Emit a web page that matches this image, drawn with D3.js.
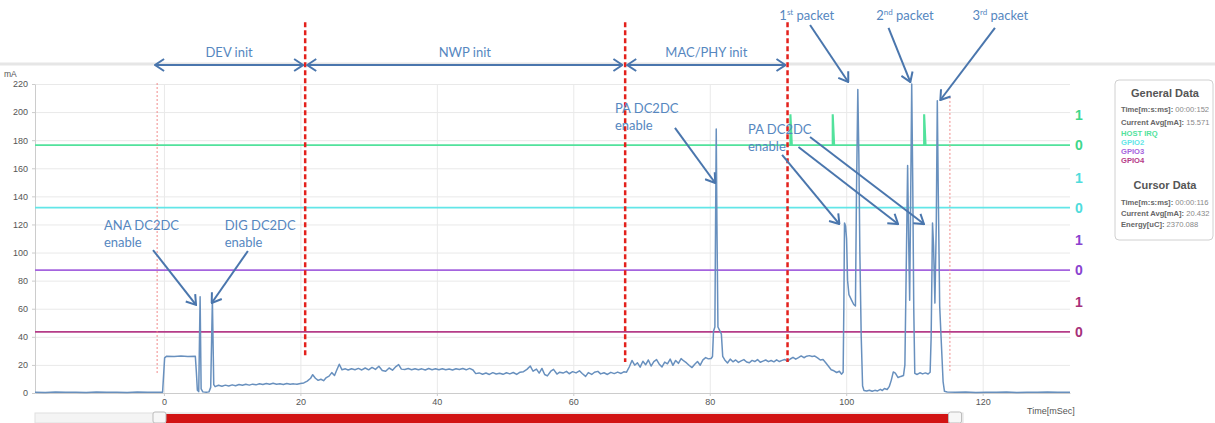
<!DOCTYPE html>
<html>
<head>
<meta charset="utf-8">
<title>Current consumption trace</title>
<script src="https://d3js.org/d3.v7.min.js"></script>
<style>
  body { margin: 0; background: #fff; }
  svg { display: block; font-family: "Liberation Sans", Arial, sans-serif; }
  .grid line { stroke: #e9e9e9; }
  .grid path { stroke: none; }
  .axis text { fill: #555; font-size: 9px; }
  .axis line, .axis path { stroke: #cccccc; }
  .note { font-family: Lato, sans-serif; font-size: 13px; fill: #5687bf; }
  .ptr { stroke: #4a76ad; stroke-width: 2; fill: none; }
  .legend .small { font-size: 7.6px; }
  .legend .head { font-size: 11px; font-weight: bold; fill: #555; }
</style>
</head>
<body>
<svg id="chart" width="1215" height="423"></svg>
<script>
// ---- data read off the capture ----
// current trace: [time ms, current mA]
const trace = [
  [-18.9,0.6],[-17.4,0.4],[-15.9,0.7],[-14.4,0.5],[-12.9,0.6],[-11.4,0.4],[-9.9,0.7],[-8.4,0.5],
  [-6.9,0.6],[-5.4,0.4],[-3.9,0.7],[-2.4,0.5],[-1.0,0.6],[-0.2,0.6],
  [0.1,25],[0.4,26.2],[1.5,26],[2.5,26.3],[3.5,26],[4.6,26.2],[4.75,15],[4.9,2],[5.1,1],
  [5.3,68.5],[5.45,3],[5.7,0.8],[6.2,0.5],[6.6,0.8],[6.85,4],[7.1,66],[7.3,6],
  [7.5,4.5],[8,5.5],[8.5,4.8],[9,5.6],[9.5,5],[10,5.8],[10.5,5.2],[11,6],[11.5,5.5],[12,6.2],
  [12.5,5.6],[13,6.3],[13.5,5.8],[14,6.6],[14.5,6],[15,6.8],[15.5,6.2],[16,6.9],[16.5,6.3],
  [17,6.6],[17.5,6.1],[18,6.8],[18.5,6.3],[19,6.5],[19.5,6.2],[20,6.8],[20.5,7.2],[21,8.5],
  [21.5,10.5],[21.8,13],[22.2,10.5],[22.6,9],[23,9.8],[23.4,8.8],[23.8,11],[24.2,12],[24.6,14.5],
  [25,12.5],[25.3,16],[25.7,20.5],[26.1,16.5],[26.6,17.2],[27,16.4],[27.5,17.3],[28,16.6],
  [28.5,17.5],[29,16.4],[29.5,17.8],[30,16.5],[30.5,18.2],[31,16.8],[31.5,19],[32,16],[32.5,15.5],
  [33,17.8],[33.5,16.2],[34,18.8],[34.4,20.2],[34.8,17],[35.3,16.8],[35.8,17.4],[36.3,16.6],
  [36.8,17.3],[37.3,16.5],[37.8,17.2],[38.3,16.4],[38.8,17.4],[39.3,16.6],[39.8,17.2],[40.3,16.5],
  [40.8,17.3],[41.3,16.6],[41.8,17.1],[42.3,16.4],[42.8,17.3],[43.3,16.7],[43.8,17.4],[44.3,16.5],
  [44.8,17.5],[45.3,16.4],[45.7,13.8],[46.2,14.3],[46.7,13.4],[47.2,14.2],[47.7,13.2],[48.2,14.5],
  [48.7,13.5],[49.2,14.1],[49.7,13.3],[50.2,14.4],[50.7,13.6],[51.2,14.6],[51.7,13.2],[52.2,14.8],
  [52.7,15.2],[53.2,16.8],[53.7,19.2],[54.1,15.5],[54.6,17],[55,14.2],[55.4,17.5],[55.8,13.2],
  [56.2,12.2],[56.7,15.5],[57.1,16.8],[57.6,13.5],[58,14.8],[58.5,14.2],[59,15.4],[59.4,13.7],
  [59.9,15.2],[60.4,14.3],[60.9,15.8],[61.3,13.9],[61.8,11.8],[62.2,14.5],[62.7,13.2],[63.1,14.8],
  [63.6,15.4],[64,13.6],[64.5,14.4],[65,13.2],[65.5,14.7],[66,13.8],[66.5,14.9],[67,13.9],
  [67.4,15.1],[67.8,14.8],[68.2,18.5],[68.6,23.2],[69,19.8],[69.4,21.5],[69.8,18.4],[70.2,22.6],
  [70.6,20.1],[71,23.5],[71.4,19.2],[71.8,22.3],[72.2,23.8],[72.6,20.5],[73,18.6],[73.4,22],
  [73.8,20.8],[74.2,24.1],[74.6,19.7],[75,23.2],[75.4,21.1],[75.8,24.5],[76.2,22.8],[76.6,21.4],
  [77,19.6],[77.4,18.1],[77.8,20.5],[78.2,22.4],[78.6,19.8],[79,23.6],[79.4,25.2],[79.8,24.3],
  [80.2,24.6],[80.4,26],[80.55,44],[80.75,47],[80.85,120],[80.95,188],[81.05,120],[81.2,47],
  [81.5,44],[81.7,42],[81.9,26],[82.2,23.5],[82.6,21.4],[83,24.1],[83.4,22.2],[83.8,23.5],
  [84.2,21.8],[84.6,22.9],[85,23.8],[85.4,22.1],[85.8,21.5],[86.2,23.2],[86.6,22.4],[87,23.8],
  [87.4,21.9],[87.8,22.7],[88.2,23.5],[88.6,22.3],[89,23.1],[89.4,22.2],[89.8,23.6],[90.2,22.4],
  [90.6,23.2],[91,23.9],[91.4,22.6],[91.8,24.2],[92.2,25.4],[92.6,24.1],[93,25.2],[93.4,26.4],
  [93.8,25.1],[94.2,26.2],[94.6,26.6],[95,26],[95.4,26.3],[95.8,25],[96.2,23.5],[96.6,23.8],
  [97,21.5],[97.4,19],[97.8,16.5],[98.2,15.8],[98.6,14.6],[99,15.5],[99.3,13.4],[99.55,14.8],
  [99.65,60],[99.75,121],[99.9,119],[100.05,110],[100.2,80],[100.4,70],[100.8,66],[101.1,63],
  [101.35,62],[101.5,140],[101.7,216],[101.85,170],[102,100],[102.2,40],[102.4,5],[102.6,1.8],
  [103,1.4],[103.4,2],[103.8,1.2],[104.2,1.9],[104.6,1.5],[105,2.6],[105.3,1.8],[105.6,3.2],
  [106,2.5],[106.3,4.5],[106.6,9],[106.9,15],[107.2,14.2],[107.6,11],[108,11.8],[108.4,12.5],
  [108.6,20],[108.8,90],[109,162],[109.15,110],[109.3,66],[109.45,140],[109.6,220],[109.75,150],
  [109.9,60],[110.05,14],[110.4,13.2],[110.8,14.4],[111.2,13.6],[111.6,14.3],[112,13.5],[112.3,14.8],
  [112.45,40],[112.65,121],[112.8,105],[113,64],[113.2,120],[113.35,208],[113.5,140],[113.7,62],
  [113.9,40],[114.2,8],[114.4,1.2],[114.8,0.7],[116,0.5],[117.5,0.7],[119,0.4],[120.5,0.6],
  [122,0.5],[123.5,0.7],[125,0.4],[126.5,0.6],[128,0.5],[129.5,0.7],[131,0.5],[132.8,0.6]
];

const xTicks = [0, 20, 40, 60, 80, 100, 120];
const yTicks = [0, 20, 40, 60, 80, 100, 120, 140, 160, 180, 200, 220];

// digital lines drawn over the current plot
const gpioName  = ["HOST IRQ", "GPIO2", "GPIO3", "GPIO4"];
const gpioColor = ["#52e29c", "#62e6e8", "#a564de", "#b53c88"];
const gpioText  = ["#3fd78b", "#4fdcdc", "#8a42cf", "#a6307a"];
const gpioZero  = [176.5, 132, 87.5, 43.5];   // mA where level 0 sits
const gpioHigh  = 21.4;                       // mA between level 0 and 1
const gpioPulses = [[91.8, 98.0, 111.4], [], [], []];

// phases (double arrows at the top)
const phaseName  = ["DEV init", "NWP init", "MAC/PHY init"];
const phaseStart = [-1.3, 21.0, 67.9];
const phaseEnd   = [20.4, 67.2, 91.1];

// red dashed phase separators and pink cursor lines
const sepT = [20.7, 67.6, 91.4];
const sepBottom = [25.6, 22, 22];
const cursorT = [-1.0, 115.2];
const cursorTop = [220.7, 210.8];

// callouts
const notes = [
  {lines: ["ANA DC2DC", "enable"], t: -8.8, v: 119.6},
  {lines: ["DIG DC2DC", "enable"], t: 8.9, v: 119.6},
  {lines: ["PA DC2DC", "enable"], t: 66.1, v: 202.9},
  {lines: ["PA DC2DC", "enable"], t: 85.6, v: 188.0}
];
const packetNum = ["1", "2", "3"];
const packetSup = ["st", "nd", "rd"];
const packetT = [90.2, 104.4, 118.5];
const pointers = [
  [-1.6, 101.8, 4.7, 62.7],
  [12.3, 101.1, 7.0, 64.1],
  [74.9, 188.7, 80.8, 149.5],
  [90.6, 169.5, 99.0, 120.3],
  [93.0, 175.2, 107.6, 120.3],
  [94.7, 182.3, 111.4, 120.3],
  [94.7, 262.0, 100.3, 221.4],
  [106.2, 259.9, 109.4, 221.4],
  [121.8, 259.9, 113.8, 208.6]
];

const navRange = [0.3, 115.0];

// ---- drawing ----
const svg = d3.select("#chart");
const plotL = 35, plotR = 1070, plotT = 84, plotB = 393;

const x = d3.scaleLinear([-18.9, 132.8], [plotL, plotR]);
const y = d3.scaleLinear([0, 220], [plotB, plotT]);

const defs = svg.append("defs");
defs.append("marker")
  .attr("id", "head")
  .attr("viewBox", "0 0 12 14")
  .attr("refX", 11).attr("refY", 7)
  .attr("markerWidth", 12).attr("markerHeight", 14)
  .attr("markerUnits", "userSpaceOnUse")
  .attr("orient", "auto-start-reverse")
  .append("path")
  .attr("d", "M2,1 L11,7 L2,13")
  .attr("fill", "none")
  .attr("stroke", "#4a76ad")
  .attr("stroke-width", 2);

// band above the plot
svg.append("line")
  .attr("x1", 0).attr("x2", 1215).attr("y1", 64).attr("y2", 64)
  .attr("stroke", "#e6e6e6").attr("stroke-width", 3);

// grid
svg.append("g").attr("class", "grid")
  .attr("transform", `translate(${plotL},0)`)
  .call(d3.axisLeft(y).tickValues(yTicks).tickSize(-(plotR - plotL)).tickFormat(""));
svg.append("g").attr("class", "grid")
  .attr("transform", `translate(0,${plotB})`)
  .call(d3.axisBottom(x).tickValues(xTicks).tickSize(-(plotB - plotT)).tickFormat(""));

// axes
svg.append("g").attr("class", "axis")
  .attr("transform", `translate(${plotL},0)`)
  .call(d3.axisLeft(y).tickValues(yTicks).tickSize(3).tickSizeOuter(0).tickPadding(4));
svg.append("g").attr("class", "axis")
  .attr("transform", `translate(0,${plotB})`)
  .call(d3.axisBottom(x).tickValues(xTicks).tickSize(3).tickSizeOuter(0).tickPadding(3));

svg.append("text").attr("x", 4).attr("y", 77)
  .attr("font-size", 8.5).attr("fill", "#555").text("mA");
svg.append("text").attr("x", 1027).attr("y", 414)
  .attr("font-size", 9).attr("fill", "#555").text("Time[mSec]");

// gpio lines
gpioName.forEach((name, i) => {
  const pts = [[x.domain()[0], 0]];
  gpioPulses[i].forEach(p => {
    pts.push([p, 0], [p, 1], [p + 0.05, 1], [p + 0.25, 0]);
  });
  pts.push([x.domain()[1], 0]);
  svg.append("path")
    .datum(pts)
    .attr("fill", "none")
    .attr("stroke", gpioColor[i])
    .attr("stroke-width", 1.8)
    .attr("d", d3.line(d => x(d[0]), d => y(gpioZero[i] + d[1] * gpioHigh)));
  [0, 1].forEach(lv => {
    svg.append("text")
      .attr("x", plotR + 5)
      .attr("y", y(gpioZero[i] + lv * gpioHigh) + 5)
      .attr("font-size", 14).attr("font-weight", "bold")
      .attr("fill", gpioText[i])
      .text(lv);
  });
});

// current trace
svg.append("path")
  .datum(trace)
  .attr("fill", "none")
  .attr("stroke", "#6890be")
  .attr("stroke-width", 1.5)
  .attr("stroke-linejoin", "round")
  .attr("d", d3.line(d => x(d[0]), d => y(d[1])));

// cursor lines
svg.selectAll(".cursor").data(cursorT).join("line")
  .attr("class", "cursor")
  .attr("x1", d => x(d)).attr("x2", d => x(d))
  .attr("y1", (d, i) => y(cursorTop[i])).attr("y2", y(14.2))
  .attr("stroke", "#f08a8a").attr("stroke-width", 1)
  .attr("stroke-dasharray", "2,2");

// phase separators
svg.selectAll(".sep").data(sepT).join("line")
  .attr("class", "sep")
  .attr("x1", d => x(d)).attr("x2", d => x(d))
  .attr("y1", y(264)).attr("y2", (d, i) => y(sepBottom[i]))
  .attr("stroke", "#e3211c").attr("stroke-width", 2.5)
  .attr("stroke-dasharray", "5,3");

// phase arrows
phaseName.forEach((name, i) => {
  svg.append("line").attr("class", "ptr")
    .attr("x1", x(phaseStart[i])).attr("x2", x(phaseEnd[i]))
    .attr("y1", y(233.5)).attr("y2", y(233.5))
    .attr("marker-start", "url(#head)").attr("marker-end", "url(#head)");
  svg.append("text").attr("class", "note")
    .attr("x", x((phaseStart[i] + phaseEnd[i]) / 2))
    .attr("y", y(243) + 5)
    .attr("text-anchor", "middle")
    .text(name);
});

// callouts
notes.forEach(n => {
  const t = svg.append("text").attr("class", "note");
  n.lines.forEach((s, k) => {
    t.append("tspan").attr("x", x(n.t)).attr("y", y(n.v) + 5 + k * 17).text(s);
  });
});
packetNum.forEach((n, i) => {
  const t = svg.append("text").attr("class", "note")
    .attr("x", x(packetT[i])).attr("y", y(269) + 5);
  t.append("tspan").text(n);
  t.append("tspan").attr("font-size", 8).attr("dy", -5).text(packetSup[i]);
  t.append("tspan").attr("dy", 5).text(" packet");
});
svg.selectAll(".pointer").data(pointers).join("line")
  .attr("class", "ptr pointer")
  .attr("x1", d => x(d[0])).attr("y1", d => y(d[1]))
  .attr("x2", d => x(d[2])).attr("y2", d => y(d[3]))
  .attr("marker-end", "url(#head)");

// navigator
const nav = svg.append("g");
nav.append("rect")
  .attr("x", plotL).attr("y", 413).attr("width", 928).attr("height", 10)
  .attr("fill", "#f4f4f4").attr("stroke", "#e0e0e0");
nav.append("rect")
  .attr("x", x(navRange[0])).attr("y", 414)
  .attr("width", x(navRange[1]) - x(navRange[0])).attr("height", 9)
  .attr("fill", "#d21414");
nav.selectAll(".handle").data(navRange).join("rect")
  .attr("class", "handle")
  .attr("x", (d, i) => i === 0 ? x(d) - 13 : x(d))
  .attr("y", 412).attr("width", 13).attr("height", 11).attr("rx", 2)
  .attr("fill", "#f7f7f7").attr("stroke", "#bbb");

// info box
const lg = svg.append("g").attr("class", "legend");
lg.append("rect")
  .attr("x", 1115).attr("y", 80).attr("width", 98).attr("height", 160).attr("rx", 4)
  .attr("fill", "#fff").attr("stroke", "#d0d0d0");
const head = (txt, yy) => lg.append("text").attr("class", "head")
  .attr("x", 1165).attr("y", yy).attr("text-anchor", "middle").text(txt);
const row = (lab, val, yy) => {
  const t = lg.append("text").attr("class", "small").attr("x", 1121).attr("y", yy);
  t.append("tspan").attr("font-weight", "bold").attr("fill", "#666").text(lab);
  t.append("tspan").attr("fill", "#888").text(" " + val);
};
head("General Data", 97);
row("Time[m:s:ms]:", "00:00:152", 112);
row("Current Avg[mA]:", "15.571", 125);
gpioName.forEach((n, i) => {
  lg.append("text").attr("class", "small").attr("x", 1121).attr("y", 136 + i * 9)
    .attr("fill", gpioColor[i]).attr("font-weight", "bold").text(n);
});
head("Cursor Data", 189);
row("Time[m:s:ms]:", "00:00:116", 205);
row("Current Avg[mA]:", "20.432", 216);
row("Energy[uC]:", "2370.088", 227);
</script>
</body>
</html>
